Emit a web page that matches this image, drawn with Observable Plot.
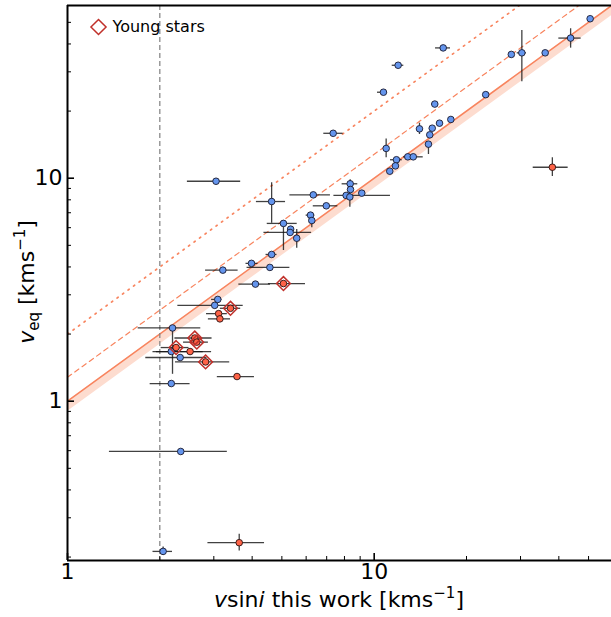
<!DOCTYPE html>
<html><head><meta charset="utf-8">
<script src="https://cdn.jsdelivr.net/npm/d3@7"></script>
<script src="https://cdn.jsdelivr.net/npm/@observablehq/plot@0.6"></script>
<style>body{margin:0;background:#fff} svg{display:block}</style>
</head><body><div id="chart"></div>
<script>
// [vsini, veq, vsini_lo, vsini_hi, veq_lo, veq_hi]
const blueStars = [
  [2.05, 0.212, 1.90, 2.20, 0.203, 0.222],
  [2.34, 0.595, 1.37, 3.32, null, null],
  [2.18, 1.20, 1.86, 2.51, null, null],
  [2.20, 2.13, 1.70, 2.72, 1.32, 2.13],
  [2.18, 1.67, 1.90, 2.77, null, null],
  [2.33, 1.57, 1.80, 2.85, null, null],
  [3.09, 2.86, 2.95, 3.19, null, null],
  [3.02, 2.69, 2.29, 3.74, null, null],
  [4.10, 3.35, 3.62, 4.59, null, null],
  [3.21, 3.87, 2.82, 3.60, null, null],
  [3.98, 4.15, 3.82, 4.18, null, null],
  [4.57, 3.98, 3.85, 5.31, null, null],
  [4.63, 4.55, 4.44, 4.82, null, null],
  [3.05, 9.69, 2.46, 3.67, null, null],
  [4.63, 7.86, 4.13, 5.14, 6.28, 9.54],
  [5.06, 6.27, 4.48, 5.61, 4.74, 6.27],
  [5.34, 5.91, null, null, null, null],
  [5.32, 5.71, 4.37, 6.25, null, null],
  [5.59, 5.38, null, null, 4.85, 5.89],
  [6.33, 8.42, 5.31, 7.20, null, null],
  [6.20, 6.83, 6.00, 6.40, null, null],
  [6.26, 6.46, null, null, 5.99, 6.97],
  [6.98, 7.52, 6.33, 7.61, null, null],
  [8.10, 8.37, 7.39, 11.3, null, null],
  [8.35, 9.44, 7.86, 8.84, 8.90, 9.84],
  [8.37, 8.90, null, null, null, null],
  [9.11, 8.57, null, null, null, null],
  [8.33, 8.24, null, null, 7.41, 8.90],
  [10.72, 24.3, 10.25, 11.05, null, null],
  [11.97, 32.1, 11.45, 12.49, null, null],
  [7.35, 15.9, 6.85, 7.92, null, null],
  [10.94, 13.6, null, null, 12.35, 15.0],
  [11.82, 12.1, 11.3, 12.34, null, null],
  [11.73, 11.36, null, null, null, null],
  [11.24, 10.75, null, null, null, null],
  [12.87, 12.47, null, null, null, null],
  [13.41, 12.47, 12.46, 14.45, null, null],
  [14.05, 16.65, null, null, 15.7, 17.65],
  [15.46, 16.76, null, null, null, null],
  [16.33, 17.65, null, null, null, null],
  [17.78, 18.34, null, null, null, null],
  [15.18, 15.65, null, null, null, null],
  [15.03, 14.21, null, null, 12.77, 14.21],
  [15.76, 21.5, 15.4, 16.2, null, null],
  [16.79, 38.4, 15.85, 17.74, null, null],
  [23.1, 23.7, null, null, null, null],
  [28.0, 35.9, null, null, null, null],
  [30.3, 36.5, 29.26, 31.38, 27.1, 46.0],
  [36.1, 36.5, null, null, null, null],
  [43.7, 42.5, 40.0, 47.3, 38.3, 46.8],
  [50.6, 51.9, null, null, null, null]
];
const redStars = [
  [3.11, 2.47, 2.84, 3.32, null, null],
  [3.14, 2.34, 2.88, 3.40, null, null],
  [2.51, 1.67, 1.95, 2.95, null, null],
  [3.57, 1.29, 3.08, 4.07, null, null],
  [3.63, 0.232, 2.87, 4.39, 0.213, 0.253],
  [38.1, 11.2, 33.0, 42.9, 10.18, 12.35]
];
const youngStars = [
  [5.06, 3.37, 4.52, 5.97, null, null],
  [3.40, 2.61, 3.15, 3.67, null, null],
  [2.60, 1.92, 2.24, 2.96, null, null],
  [2.64, 1.84, 2.39, 2.88, null, null],
  [2.26, 1.74, 2.02, 2.49, null, null],
  [2.82, 1.50, 2.25, 3.38, null, null]
];
const xMajor = [1, 10];
const xMinor = [2, 3, 4, 5, 6, 7, 8, 9, 20, 30, 40, 50];
const yMajor = [1, 10];
const yMinor = [0.2, 0.3, 0.4, 0.5, 0.6, 0.7, 0.8, 0.9, 2, 3, 4, 5, 6, 7, 8, 9, 20, 30, 40, 50];
const lineX = [1, 60];
const resLimit = [2];
const legendLabel = ["Young stars"];

const rows = arr => arr.map(([x, y, xlo, xhi, ylo, yhi]) => ({x, y, xlo, xhi, ylo, yhi}));
const blue = rows(blueStars), red = rows(redStars), young = rows(youngStars);
const all = [...blue, ...red, ...young];
const orange = "#F8845E";

const plot = Plot.plot({
  width: 611, height: 617,
  marginLeft: 67, marginRight: 0, marginTop: 5, marginBottom: 57,
  style: {fontFamily: "DejaVu Sans", fontSize: "22px", background: "white", color: "black"},
  x: {type: "log", domain: [1, 59.4]},
  y: {type: "log", domain: [0.193, 59.5]},
  marks: [
    Plot.areaY(lineX, {x: d => d, y1: d => d * 0.9, y2: d => d, fill: "#FDDCCF", clip: true}),
    Plot.line(lineX, {x: d => d, y: d => d, stroke: orange, strokeWidth: 1.5, clip: true}),
    Plot.line(lineX, {x: d => d, y: d => d * 1.28, stroke: orange, strokeWidth: 1.2, strokeDasharray: "5,4", clip: true}),
    Plot.line(lineX, {x: d => d, y: d => d * 2, stroke: orange, strokeWidth: 1.7, strokeDasharray: "1.4,5.4", clip: true}),
    Plot.ruleX(resLimit, {x: d => d, stroke: "#808080", strokeWidth: 1.2, strokeDasharray: "5,3"}),
    Plot.ruleY(all.filter(d => d.xlo != null), {y: "y", x1: "xlo", x2: "xhi", stroke: "#111", strokeOpacity: 0.8, strokeWidth: 1.3, clip: true}),
    Plot.ruleX(all.filter(d => d.ylo != null), {x: "x", y1: "ylo", y2: "yhi", stroke: "#111", strokeOpacity: 0.8, strokeWidth: 1.3, clip: true}),
    Plot.dot(blue, {x: "x", y: "y", r: 3.3, fill: "#6495ED", stroke: "#1a1a2e", strokeWidth: 0.9}),
    Plot.dot(red, {x: "x", y: "y", r: 3.3, fill: "#FF6347", stroke: "#2a1010", strokeWidth: 0.9}),
    Plot.dot(young, {x: "x", y: "y", r: 3.3, fill: "#FF6347", stroke: "#2a1010", strokeWidth: 0.9}),
    Plot.dot(young, {x: "x", y: "y", r: 6.2, symbol: "diamond2", fill: "none", stroke: "#C0302A", strokeWidth: 1.5}),
    // legend
    Plot.dot(legendLabel, {frameAnchor: "top-left", dx: 31, dy: 21.5, r: 6.8, symbol: "diamond2", fill: "none", stroke: "#C0302A", strokeWidth: 1.5}),
    Plot.text(legendLabel, {frameAnchor: "top-left", dx: 45, dy: 21.5, text: d => d, textAnchor: "start", lineAnchor: "middle", fontSize: 16, fill: "black"}),
    // frame lines
    Plot.ruleY([59.5], {stroke: "black", strokeWidth: 2}),
    Plot.ruleY([0.193], {stroke: "black", strokeWidth: 2}),
    Plot.ruleX([1], {stroke: "black", strokeWidth: 2}),
    // inward ticks
    Plot.axisX(xMajor, {anchor: "bottom", tickSize: 7, dy: -7, strokeWidth: 1.6, tickFormat: () => "", label: null}),
    Plot.axisX(xMinor, {anchor: "bottom", tickSize: 4, dy: -4, strokeWidth: 1, tickFormat: () => "", label: null}),
    Plot.axisY(yMajor, {anchor: "left", tickSize: 7, dx: 7, strokeWidth: 1.6, tickFormat: () => "", label: null}),
    Plot.axisY(yMinor, {anchor: "left", tickSize: 4, dx: 4, strokeWidth: 1, tickFormat: () => "", label: null}),
    // tick labels
    Plot.axisX(xMajor, {anchor: "bottom", tickSize: 0, tickPadding: 3, tickFormat: d => String(d), label: null, fontSize: 22}),
    Plot.axisY(yMajor, {anchor: "left", tickSize: 0, tickPadding: 5, tickFormat: d => String(d), label: null, fontSize: 22})
  ]
});

const svg = d3.select(plot);
const xl = svg.append("text")
  .attr("x", 339).attr("y", 607).attr("text-anchor", "middle")
  .attr("font-family", "DejaVu Sans").attr("font-size", 22).attr("fill", "black");
xl.append("tspan").attr("font-style", "italic").text("v");
xl.append("tspan").text("sin");
xl.append("tspan").attr("font-style", "italic").text("i");
xl.append("tspan").text(" this work [kms");
xl.append("tspan").attr("dy", -9).attr("font-size", 15).text("−1");
xl.append("tspan").attr("dy", 9).text("]");

const yl = svg.append("text")
  .attr("transform", "translate(34,282) rotate(-90)").attr("text-anchor", "middle")
  .attr("font-family", "DejaVu Sans").attr("font-size", 22).attr("fill", "black");
yl.append("tspan").attr("font-style", "italic").text("v");
yl.append("tspan").attr("dy", 5).attr("font-size", 15).text("eq");
yl.append("tspan").attr("dy", -5).text(" [kms");
yl.append("tspan").attr("dy", -9).attr("font-size", 15).text("−1");
yl.append("tspan").attr("dy", 9).text("]");

document.getElementById("chart").appendChild(plot);
</script>
</body></html>
